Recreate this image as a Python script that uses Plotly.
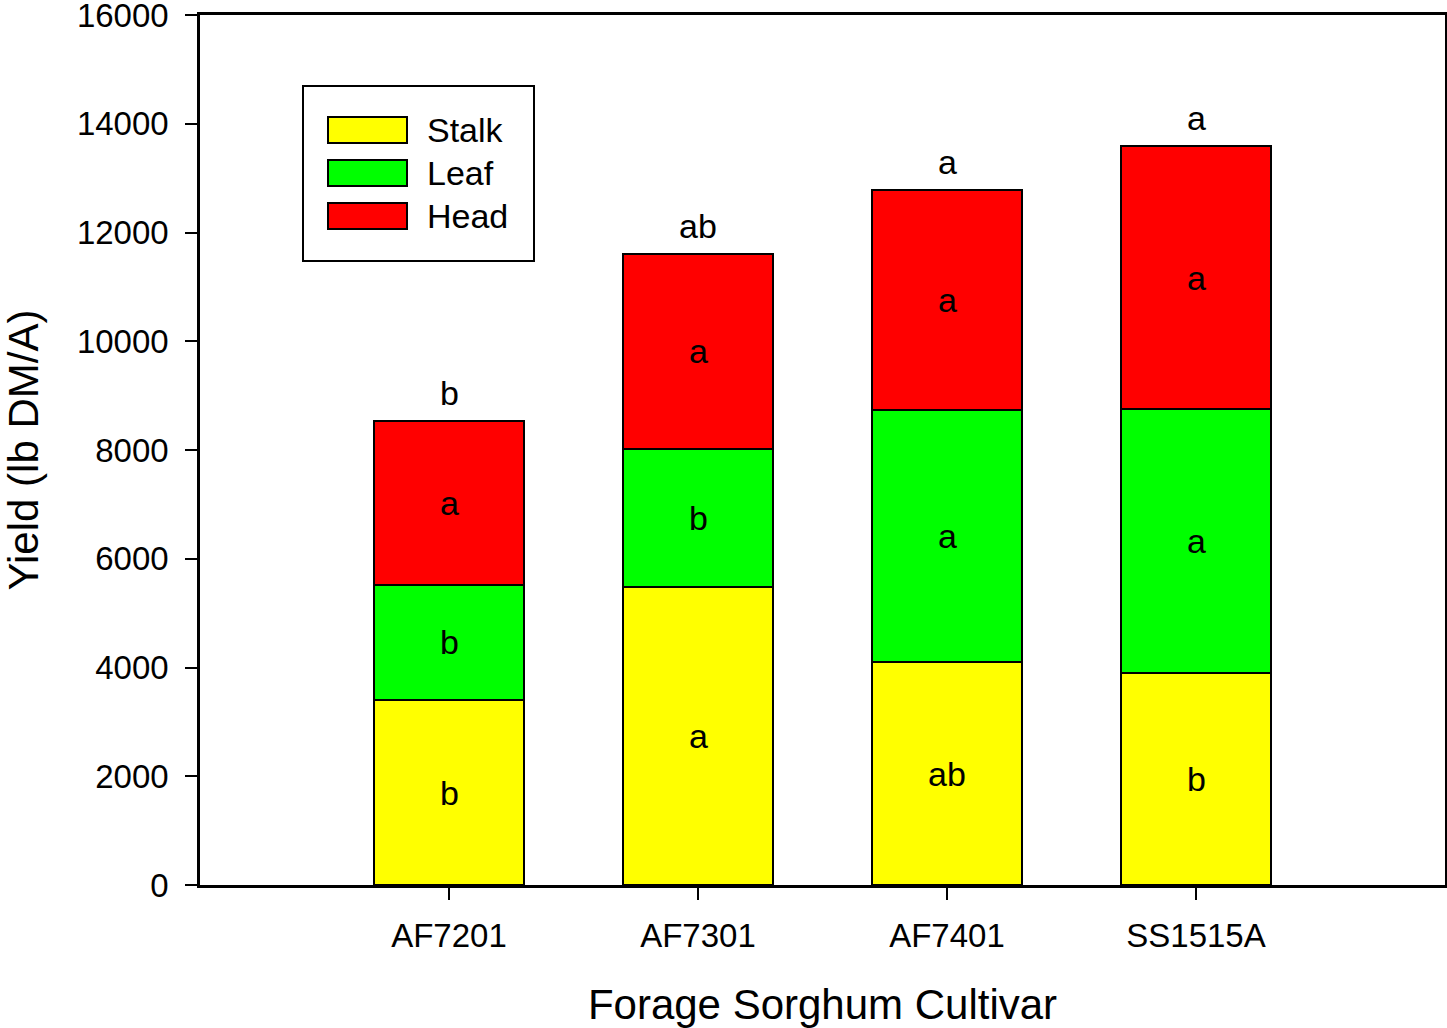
import plotly.graph_objects as go

cultivars = ["AF7201", "AF7301", "AF7401", "SS1515A"]
stalk = [3400, 5480, 4100, 3900]
leaf = [2120, 2540, 4640, 4850]
head = [3010, 3590, 4040, 4840]

stalk_letters = ["b", "a", "ab", "b"]
leaf_letters = ["b", "b", "a", "a"]
head_letters = ["a", "a", "a", "a"]
total_letters = ["b", "ab", "a", "a"]

series_names = ["Stalk", "Leaf", "Head"]
series_colors = ["#FFFF00", "#00FF00", "#FF0000"]

FONT = "Liberation Sans, Arial, sans-serif"
W, H = 1447, 1028
ML, MR, MT, MB = 200, 2, 15, 143
PW, PH = W - ML - MR, H - MT - MB

fig = go.Figure()
for name, vals, col in zip(series_names, [stalk, leaf, head], series_colors):
    fig.add_trace(go.Bar(
        x=cultivars, y=vals, name=name,
        marker=dict(color=col, line=dict(color="black", width=2)),
        width=0.6, showlegend=False,
    ))

# letters inside segments
annotations = []
for i, c in enumerate(cultivars):
    base = 0
    for vals, letters in zip([stalk, leaf, head], [stalk_letters, leaf_letters, head_letters]):
        annotations.append(dict(
            x=c, y=base + vals[i] / 2, text=letters[i], showarrow=False,
            xref="x", yref="y", font=dict(family=FONT, size=34, color="black"),
            yanchor="middle",
        ))
        base += vals[i]
    annotations.append(dict(
        x=c, y=base, text=total_letters[i], showarrow=False,
        xref="x", yref="y", yanchor="middle", yshift=28,
        font=dict(family=FONT, size=34, color="black"),
    ))


def px_x(p):
    return (p - ML) / PW


def px_y(p):
    return (H - MB - p) / PH


shapes = [dict(type="rect", xref="paper", yref="paper",
               x0=px_x(303), x1=px_x(534), y0=px_y(261), y1=px_y(86),
               line=dict(color="black", width=2), fillcolor="white", layer="above")]
row_centers = [130, 173, 216]
for name, col, yc in zip(series_names, series_colors, row_centers):
    shapes.append(dict(type="rect", xref="paper", yref="paper",
                       x0=px_x(328), x1=px_x(407), y0=px_y(yc + 13), y1=px_y(yc - 13),
                       line=dict(color="black", width=2), fillcolor=col, layer="above"))
    annotations.append(dict(x=px_x(425), y=px_y(yc), xref="paper", yref="paper",
                            text=name, showarrow=False, xanchor="left", yanchor="middle",
                            font=dict(family=FONT, size=34, color="black")))

fig.update_layout(
    barmode="stack",
    width=W, height=H,
    margin=dict(l=ML, r=MR, t=MT, b=MB, pad=0, autoexpand=False),
    plot_bgcolor="white", paper_bgcolor="white",
    font=dict(family=FONT, size=33, color="black"),
    shapes=shapes, annotations=annotations,
    xaxis=dict(
        type="category", range=[-1, 4], automargin=False,
        showline=True, linecolor="black", linewidth=2.5, mirror=True,
        ticks="outside", ticklen=12, tickwidth=2, tickcolor="black",
        showgrid=False, zeroline=False, ticklabelstandoff=8,
        tickfont=dict(family=FONT, size=33, color="black"),
        title=dict(text="Forage Sorghum Cultivar", font=dict(family=FONT, size=42, color="black"), standoff=40),
    ),
    yaxis=dict(
        range=[0, 16000], tickvals=list(range(0, 16001, 2000)), automargin=False,
        showline=True, linecolor="black", linewidth=2.5, mirror=True,
        ticks="outside", ticklen=12, tickwidth=2, tickcolor="black",
        showgrid=False, zeroline=False, tickformat="d",
        ticklabelstandoff=10, ticklabeloverflow="allow",
        tickfont=dict(family=FONT, size=33, color="black"),
        title=dict(text="Yield (lb DM/A)", font=dict(family=FONT, size=42, color="black"), standoff=30),
    ),
)

fig.write_html("out.html")
